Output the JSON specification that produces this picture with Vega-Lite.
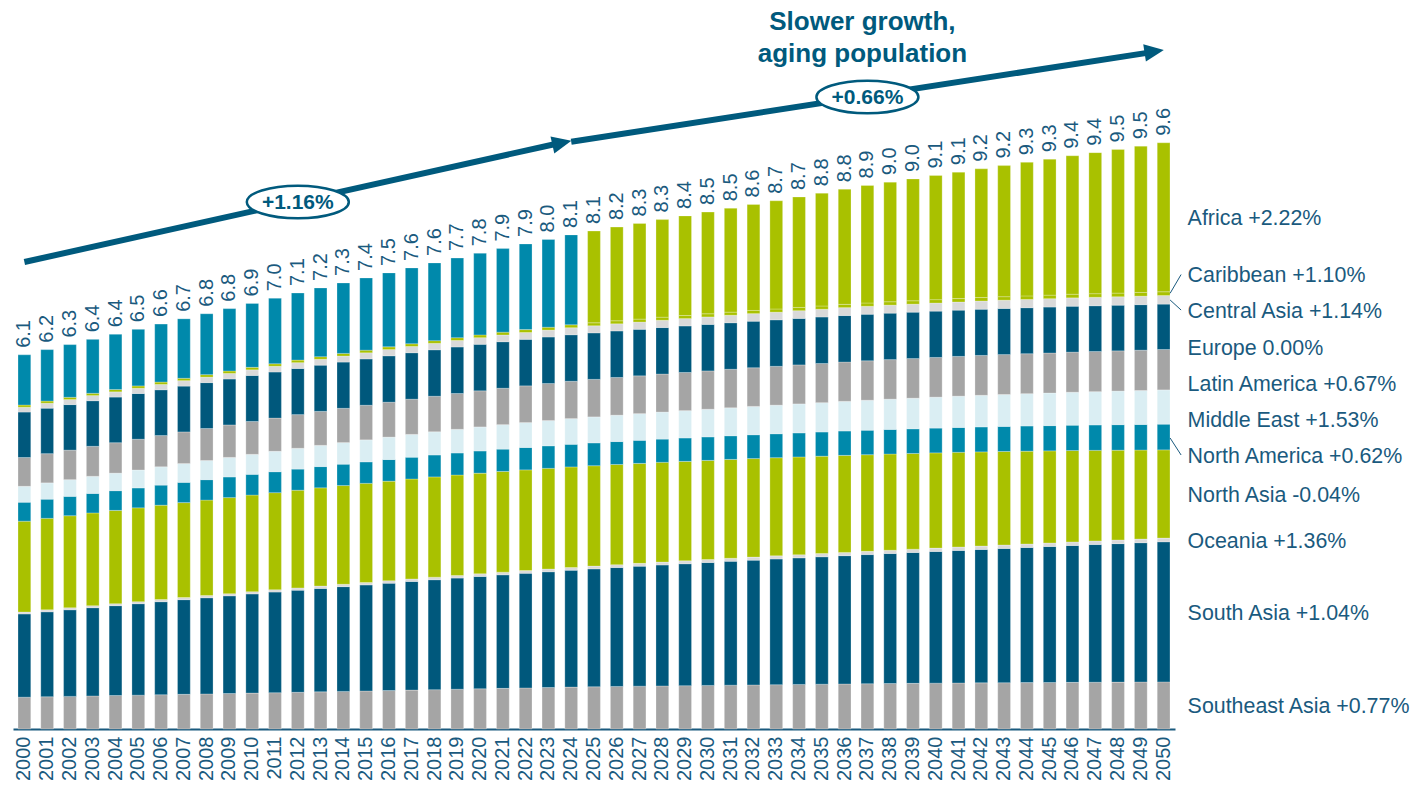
{
"$schema": "https://vega.github.io/schema/vega-lite/v6.json",
"width": 1162,
"height": 729,
"autosize": {"type": "none"},
"padding": {"left": 13, "top": 0, "right": 236, "bottom": 58},
"background": "white",
"config": {
  "view": {"stroke": null},
  "font": "Liberation Sans",
  "axisY": {"disable": true},
  "axisX": {"labelAngle": 270, "labelFontSize": 20, "labelColor": "#1A5A7E", "labelFont": "Liberation Sans", "ticks": false, "domainColor": "#1A5A7E", "domainWidth": 2, "labelPadding": 7, "grid": false}
},
"datasets": {
"pop": [
{"year":2000,"region":"Southeast Asia","value":0.520},{"year":2001,"region":"Southeast Asia","value":0.527},{"year":2002,"region":"Southeast Asia","value":0.533},{"year":2003,"region":"Southeast Asia","value":0.540},{"year":2004,"region":"Southeast Asia","value":0.547},{"year":2005,"region":"Southeast Asia","value":0.553},{"year":2006,"region":"Southeast Asia","value":0.560},{"year":2007,"region":"Southeast Asia","value":0.567},{"year":2008,"region":"Southeast Asia","value":0.573},{"year":2009,"region":"Southeast Asia","value":0.580},{"year":2010,"region":"Southeast Asia","value":0.587},{"year":2011,"region":"Southeast Asia","value":0.593},{"year":2012,"region":"Southeast Asia","value":0.600},{"year":2013,"region":"Southeast Asia","value":0.607},{"year":2014,"region":"Southeast Asia","value":0.614},{"year":2015,"region":"Southeast Asia","value":0.621},{"year":2016,"region":"Southeast Asia","value":0.628},{"year":2017,"region":"Southeast Asia","value":0.636},{"year":2018,"region":"Southeast Asia","value":0.643},{"year":2019,"region":"Southeast Asia","value":0.650},{"year":2020,"region":"Southeast Asia","value":0.657},{"year":2021,"region":"Southeast Asia","value":0.664},{"year":2022,"region":"Southeast Asia","value":0.671},{"year":2023,"region":"Southeast Asia","value":0.678},{"year":2024,"region":"Southeast Asia","value":0.685},{"year":2025,"region":"Southeast Asia","value":0.690},{"year":2026,"region":"Southeast Asia","value":0.695},{"year":2027,"region":"Southeast Asia","value":0.700},{"year":2028,"region":"Southeast Asia","value":0.704},{"year":2029,"region":"Southeast Asia","value":0.708},{"year":2030,"region":"Southeast Asia","value":0.712},{"year":2031,"region":"Southeast Asia","value":0.716},{"year":2032,"region":"Southeast Asia","value":0.720},{"year":2033,"region":"Southeast Asia","value":0.724},{"year":2034,"region":"Southeast Asia","value":0.728},{"year":2035,"region":"Southeast Asia","value":0.732},{"year":2036,"region":"Southeast Asia","value":0.736},{"year":2037,"region":"Southeast Asia","value":0.740},{"year":2038,"region":"Southeast Asia","value":0.743},{"year":2039,"region":"Southeast Asia","value":0.746},{"year":2040,"region":"Southeast Asia","value":0.749},{"year":2041,"region":"Southeast Asia","value":0.752},{"year":2042,"region":"Southeast Asia","value":0.754},{"year":2043,"region":"Southeast Asia","value":0.756},{"year":2044,"region":"Southeast Asia","value":0.758},{"year":2045,"region":"Southeast Asia","value":0.760},{"year":2046,"region":"Southeast Asia","value":0.762},{"year":2047,"region":"Southeast Asia","value":0.764},{"year":2048,"region":"Southeast Asia","value":0.766},{"year":2049,"region":"Southeast Asia","value":0.768},{"year":2050,"region":"Southeast Asia","value":0.770},
{"year":2000,"region":"South Asia","value":1.360},{"year":2001,"region":"South Asia","value":1.388},{"year":2002,"region":"South Asia","value":1.415},{"year":2003,"region":"South Asia","value":1.442},{"year":2004,"region":"South Asia","value":1.468},{"year":2005,"region":"South Asia","value":1.494},{"year":2006,"region":"South Asia","value":1.520},{"year":2007,"region":"South Asia","value":1.546},{"year":2008,"region":"South Asia","value":1.571},{"year":2009,"region":"South Asia","value":1.596},{"year":2010,"region":"South Asia","value":1.620},{"year":2011,"region":"South Asia","value":1.644},{"year":2012,"region":"South Asia","value":1.668},{"year":2013,"region":"South Asia","value":1.690},{"year":2014,"region":"South Asia","value":1.712},{"year":2015,"region":"South Asia","value":1.733},{"year":2016,"region":"South Asia","value":1.754},{"year":2017,"region":"South Asia","value":1.775},{"year":2018,"region":"South Asia","value":1.796},{"year":2019,"region":"South Asia","value":1.816},{"year":2020,"region":"South Asia","value":1.836},{"year":2021,"region":"South Asia","value":1.855},{"year":2022,"region":"South Asia","value":1.873},{"year":2023,"region":"South Asia","value":1.891},{"year":2024,"region":"South Asia","value":1.909},{"year":2025,"region":"South Asia","value":1.926},{"year":2026,"region":"South Asia","value":1.943},{"year":2027,"region":"South Asia","value":1.960},{"year":2028,"region":"South Asia","value":1.976},{"year":2029,"region":"South Asia","value":1.992},{"year":2030,"region":"South Asia","value":2.008},{"year":2031,"region":"South Asia","value":2.024},{"year":2032,"region":"South Asia","value":2.039},{"year":2033,"region":"South Asia","value":2.054},{"year":2034,"region":"South Asia","value":2.068},{"year":2035,"region":"South Asia","value":2.082},{"year":2036,"region":"South Asia","value":2.096},{"year":2037,"region":"South Asia","value":2.110},{"year":2038,"region":"South Asia","value":2.124},{"year":2039,"region":"South Asia","value":2.138},{"year":2040,"region":"South Asia","value":2.152},{"year":2041,"region":"South Asia","value":2.166},{"year":2042,"region":"South Asia","value":2.180},{"year":2043,"region":"South Asia","value":2.194},{"year":2044,"region":"South Asia","value":2.208},{"year":2045,"region":"South Asia","value":2.222},{"year":2046,"region":"South Asia","value":2.236},{"year":2047,"region":"South Asia","value":2.250},{"year":2048,"region":"South Asia","value":2.263},{"year":2049,"region":"South Asia","value":2.276},{"year":2050,"region":"South Asia","value":2.289},
{"year":2000,"region":"Oceania","value":0.031},{"year":2001,"region":"Oceania","value":0.032},{"year":2002,"region":"Oceania","value":0.032},{"year":2003,"region":"Oceania","value":0.033},{"year":2004,"region":"Oceania","value":0.033},{"year":2005,"region":"Oceania","value":0.034},{"year":2006,"region":"Oceania","value":0.035},{"year":2007,"region":"Oceania","value":0.035},{"year":2008,"region":"Oceania","value":0.036},{"year":2009,"region":"Oceania","value":0.036},{"year":2010,"region":"Oceania","value":0.037},{"year":2011,"region":"Oceania","value":0.038},{"year":2012,"region":"Oceania","value":0.038},{"year":2013,"region":"Oceania","value":0.039},{"year":2014,"region":"Oceania","value":0.039},{"year":2015,"region":"Oceania","value":0.040},{"year":2016,"region":"Oceania","value":0.041},{"year":2017,"region":"Oceania","value":0.041},{"year":2018,"region":"Oceania","value":0.042},{"year":2019,"region":"Oceania","value":0.042},{"year":2020,"region":"Oceania","value":0.043},{"year":2021,"region":"Oceania","value":0.044},{"year":2022,"region":"Oceania","value":0.044},{"year":2023,"region":"Oceania","value":0.045},{"year":2024,"region":"Oceania","value":0.045},{"year":2025,"region":"Oceania","value":0.046},{"year":2026,"region":"Oceania","value":0.047},{"year":2027,"region":"Oceania","value":0.047},{"year":2028,"region":"Oceania","value":0.048},{"year":2029,"region":"Oceania","value":0.048},{"year":2030,"region":"Oceania","value":0.049},{"year":2031,"region":"Oceania","value":0.050},{"year":2032,"region":"Oceania","value":0.050},{"year":2033,"region":"Oceania","value":0.051},{"year":2034,"region":"Oceania","value":0.051},{"year":2035,"region":"Oceania","value":0.052},{"year":2036,"region":"Oceania","value":0.053},{"year":2037,"region":"Oceania","value":0.053},{"year":2038,"region":"Oceania","value":0.054},{"year":2039,"region":"Oceania","value":0.054},{"year":2040,"region":"Oceania","value":0.055},{"year":2041,"region":"Oceania","value":0.056},{"year":2042,"region":"Oceania","value":0.056},{"year":2043,"region":"Oceania","value":0.057},{"year":2044,"region":"Oceania","value":0.057},{"year":2045,"region":"Oceania","value":0.058},{"year":2046,"region":"Oceania","value":0.059},{"year":2047,"region":"Oceania","value":0.059},{"year":2048,"region":"Oceania","value":0.060},{"year":2049,"region":"Oceania","value":0.060},{"year":2050,"region":"Oceania","value":0.061},
{"year":2000,"region":"North Asia","value":1.485},{"year":2001,"region":"North Asia","value":1.495},{"year":2002,"region":"North Asia","value":1.505},{"year":2003,"region":"North Asia","value":1.515},{"year":2004,"region":"North Asia","value":1.524},{"year":2005,"region":"North Asia","value":1.533},{"year":2006,"region":"North Asia","value":1.542},{"year":2007,"region":"North Asia","value":1.551},{"year":2008,"region":"North Asia","value":1.560},{"year":2009,"region":"North Asia","value":1.569},{"year":2010,"region":"North Asia","value":1.578},{"year":2011,"region":"North Asia","value":1.587},{"year":2012,"region":"North Asia","value":1.596},{"year":2013,"region":"North Asia","value":1.605},{"year":2014,"region":"North Asia","value":1.613},{"year":2015,"region":"North Asia","value":1.620},{"year":2016,"region":"North Asia","value":1.627},{"year":2017,"region":"North Asia","value":1.633},{"year":2018,"region":"North Asia","value":1.638},{"year":2019,"region":"North Asia","value":1.642},{"year":2020,"region":"North Asia","value":1.645},{"year":2021,"region":"North Asia","value":1.646},{"year":2022,"region":"North Asia","value":1.646},{"year":2023,"region":"North Asia","value":1.645},{"year":2024,"region":"North Asia","value":1.643},{"year":2025,"region":"North Asia","value":1.640},{"year":2026,"region":"North Asia","value":1.637},{"year":2027,"region":"North Asia","value":1.633},{"year":2028,"region":"North Asia","value":1.629},{"year":2029,"region":"North Asia","value":1.625},{"year":2030,"region":"North Asia","value":1.620},{"year":2031,"region":"North Asia","value":1.615},{"year":2032,"region":"North Asia","value":1.610},{"year":2033,"region":"North Asia","value":1.604},{"year":2034,"region":"North Asia","value":1.598},{"year":2035,"region":"North Asia","value":1.592},{"year":2036,"region":"North Asia","value":1.586},{"year":2037,"region":"North Asia","value":1.579},{"year":2038,"region":"North Asia","value":1.572},{"year":2039,"region":"North Asia","value":1.564},{"year":2040,"region":"North Asia","value":1.556},{"year":2041,"region":"North Asia","value":1.547},{"year":2042,"region":"North Asia","value":1.538},{"year":2043,"region":"North Asia","value":1.528},{"year":2044,"region":"North Asia","value":1.517},{"year":2045,"region":"North Asia","value":1.505},{"year":2046,"region":"North Asia","value":1.493},{"year":2047,"region":"North Asia","value":1.480},{"year":2048,"region":"North Asia","value":1.467},{"year":2049,"region":"North Asia","value":1.454},{"year":2050,"region":"North Asia","value":1.441},
{"year":2000,"region":"North America","value":0.310},{"year":2001,"region":"North America","value":0.313},{"year":2002,"region":"North America","value":0.316},{"year":2003,"region":"North America","value":0.319},{"year":2004,"region":"North America","value":0.322},{"year":2005,"region":"North America","value":0.325},{"year":2006,"region":"North America","value":0.328},{"year":2007,"region":"North America","value":0.331},{"year":2008,"region":"North America","value":0.334},{"year":2009,"region":"North America","value":0.337},{"year":2010,"region":"North America","value":0.339},{"year":2011,"region":"North America","value":0.342},{"year":2012,"region":"North America","value":0.345},{"year":2013,"region":"North America","value":0.347},{"year":2014,"region":"North America","value":0.349},{"year":2015,"region":"North America","value":0.351},{"year":2016,"region":"North America","value":0.353},{"year":2017,"region":"North America","value":0.356},{"year":2018,"region":"North America","value":0.358},{"year":2019,"region":"North America","value":0.360},{"year":2020,"region":"North America","value":0.362},{"year":2021,"region":"North America","value":0.364},{"year":2022,"region":"North America","value":0.366},{"year":2023,"region":"North America","value":0.368},{"year":2024,"region":"North America","value":0.370},{"year":2025,"region":"North America","value":0.373},{"year":2026,"region":"North America","value":0.375},{"year":2027,"region":"North America","value":0.377},{"year":2028,"region":"North America","value":0.380},{"year":2029,"region":"North America","value":0.382},{"year":2030,"region":"North America","value":0.384},{"year":2031,"region":"North America","value":0.386},{"year":2032,"region":"North America","value":0.389},{"year":2033,"region":"North America","value":0.391},{"year":2034,"region":"North America","value":0.393},{"year":2035,"region":"North America","value":0.395},{"year":2036,"region":"North America","value":0.398},{"year":2037,"region":"North America","value":0.400},{"year":2038,"region":"North America","value":0.402},{"year":2039,"region":"North America","value":0.403},{"year":2040,"region":"North America","value":0.405},{"year":2041,"region":"North America","value":0.406},{"year":2042,"region":"North America","value":0.408},{"year":2043,"region":"North America","value":0.409},{"year":2044,"region":"North America","value":0.411},{"year":2045,"region":"North America","value":0.412},{"year":2046,"region":"North America","value":0.414},{"year":2047,"region":"North America","value":0.415},{"year":2048,"region":"North America","value":0.417},{"year":2049,"region":"North America","value":0.418},{"year":2050,"region":"North America","value":0.420},
{"year":2000,"region":"Middle East","value":0.260},{"year":2001,"region":"Middle East","value":0.267},{"year":2002,"region":"Middle East","value":0.273},{"year":2003,"region":"Middle East","value":0.280},{"year":2004,"region":"Middle East","value":0.287},{"year":2005,"region":"Middle East","value":0.293},{"year":2006,"region":"Middle East","value":0.300},{"year":2007,"region":"Middle East","value":0.307},{"year":2008,"region":"Middle East","value":0.313},{"year":2009,"region":"Middle East","value":0.320},{"year":2010,"region":"Middle East","value":0.327},{"year":2011,"region":"Middle East","value":0.333},{"year":2012,"region":"Middle East","value":0.340},{"year":2013,"region":"Middle East","value":0.347},{"year":2014,"region":"Middle East","value":0.353},{"year":2015,"region":"Middle East","value":0.360},{"year":2016,"region":"Middle East","value":0.367},{"year":2017,"region":"Middle East","value":0.373},{"year":2018,"region":"Middle East","value":0.380},{"year":2019,"region":"Middle East","value":0.387},{"year":2020,"region":"Middle East","value":0.393},{"year":2021,"region":"Middle East","value":0.400},{"year":2022,"region":"Middle East","value":0.407},{"year":2023,"region":"Middle East","value":0.413},{"year":2024,"region":"Middle East","value":0.420},{"year":2025,"region":"Middle East","value":0.425},{"year":2026,"region":"Middle East","value":0.431},{"year":2027,"region":"Middle East","value":0.436},{"year":2028,"region":"Middle East","value":0.442},{"year":2029,"region":"Middle East","value":0.447},{"year":2030,"region":"Middle East","value":0.452},{"year":2031,"region":"Middle East","value":0.458},{"year":2032,"region":"Middle East","value":0.463},{"year":2033,"region":"Middle East","value":0.468},{"year":2034,"region":"Middle East","value":0.474},{"year":2035,"region":"Middle East","value":0.479},{"year":2036,"region":"Middle East","value":0.485},{"year":2037,"region":"Middle East","value":0.490},{"year":2038,"region":"Middle East","value":0.495},{"year":2039,"region":"Middle East","value":0.501},{"year":2040,"region":"Middle East","value":0.506},{"year":2041,"region":"Middle East","value":0.512},{"year":2042,"region":"Middle East","value":0.517},{"year":2043,"region":"Middle East","value":0.522},{"year":2044,"region":"Middle East","value":0.528},{"year":2045,"region":"Middle East","value":0.533},{"year":2046,"region":"Middle East","value":0.539},{"year":2047,"region":"Middle East","value":0.544},{"year":2048,"region":"Middle East","value":0.549},{"year":2049,"region":"Middle East","value":0.555},{"year":2050,"region":"Middle East","value":0.560},
{"year":2000,"region":"Latin America","value":0.470},{"year":2001,"region":"Latin America","value":0.477},{"year":2002,"region":"Latin America","value":0.483},{"year":2003,"region":"Latin America","value":0.490},{"year":2004,"region":"Latin America","value":0.497},{"year":2005,"region":"Latin America","value":0.503},{"year":2006,"region":"Latin America","value":0.510},{"year":2007,"region":"Latin America","value":0.517},{"year":2008,"region":"Latin America","value":0.523},{"year":2009,"region":"Latin America","value":0.530},{"year":2010,"region":"Latin America","value":0.537},{"year":2011,"region":"Latin America","value":0.543},{"year":2012,"region":"Latin America","value":0.550},{"year":2013,"region":"Latin America","value":0.555},{"year":2014,"region":"Latin America","value":0.560},{"year":2015,"region":"Latin America","value":0.565},{"year":2016,"region":"Latin America","value":0.570},{"year":2017,"region":"Latin America","value":0.575},{"year":2018,"region":"Latin America","value":0.580},{"year":2019,"region":"Latin America","value":0.585},{"year":2020,"region":"Latin America","value":0.590},{"year":2021,"region":"Latin America","value":0.595},{"year":2022,"region":"Latin America","value":0.600},{"year":2023,"region":"Latin America","value":0.605},{"year":2024,"region":"Latin America","value":0.610},{"year":2025,"region":"Latin America","value":0.613},{"year":2026,"region":"Latin America","value":0.616},{"year":2027,"region":"Latin America","value":0.618},{"year":2028,"region":"Latin America","value":0.621},{"year":2029,"region":"Latin America","value":0.624},{"year":2030,"region":"Latin America","value":0.626},{"year":2031,"region":"Latin America","value":0.629},{"year":2032,"region":"Latin America","value":0.632},{"year":2033,"region":"Latin America","value":0.634},{"year":2034,"region":"Latin America","value":0.637},{"year":2035,"region":"Latin America","value":0.640},{"year":2036,"region":"Latin America","value":0.642},{"year":2037,"region":"Latin America","value":0.645},{"year":2038,"region":"Latin America","value":0.646},{"year":2039,"region":"Latin America","value":0.647},{"year":2040,"region":"Latin America","value":0.648},{"year":2041,"region":"Latin America","value":0.649},{"year":2042,"region":"Latin America","value":0.651},{"year":2043,"region":"Latin America","value":0.652},{"year":2044,"region":"Latin America","value":0.653},{"year":2045,"region":"Latin America","value":0.654},{"year":2046,"region":"Latin America","value":0.655},{"year":2047,"region":"Latin America","value":0.656},{"year":2048,"region":"Latin America","value":0.657},{"year":2049,"region":"Latin America","value":0.659},{"year":2050,"region":"Latin America","value":0.660},
{"year":2000,"region":"Europe","value":0.742},{"year":2001,"region":"Europe","value":0.743},{"year":2002,"region":"Europe","value":0.744},{"year":2003,"region":"Europe","value":0.745},{"year":2004,"region":"Europe","value":0.746},{"year":2005,"region":"Europe","value":0.747},{"year":2006,"region":"Europe","value":0.748},{"year":2007,"region":"Europe","value":0.749},{"year":2008,"region":"Europe","value":0.750},{"year":2009,"region":"Europe","value":0.751},{"year":2010,"region":"Europe","value":0.752},{"year":2011,"region":"Europe","value":0.753},{"year":2012,"region":"Europe","value":0.754},{"year":2013,"region":"Europe","value":0.755},{"year":2014,"region":"Europe","value":0.756},{"year":2015,"region":"Europe","value":0.757},{"year":2016,"region":"Europe","value":0.758},{"year":2017,"region":"Europe","value":0.759},{"year":2018,"region":"Europe","value":0.759},{"year":2019,"region":"Europe","value":0.760},{"year":2020,"region":"Europe","value":0.760},{"year":2021,"region":"Europe","value":0.760},{"year":2022,"region":"Europe","value":0.760},{"year":2023,"region":"Europe","value":0.760},{"year":2024,"region":"Europe","value":0.760},{"year":2025,"region":"Europe","value":0.760},{"year":2026,"region":"Europe","value":0.760},{"year":2027,"region":"Europe","value":0.760},{"year":2028,"region":"Europe","value":0.760},{"year":2029,"region":"Europe","value":0.760},{"year":2030,"region":"Europe","value":0.760},{"year":2031,"region":"Europe","value":0.760},{"year":2032,"region":"Europe","value":0.760},{"year":2033,"region":"Europe","value":0.760},{"year":2034,"region":"Europe","value":0.760},{"year":2035,"region":"Europe","value":0.760},{"year":2036,"region":"Europe","value":0.760},{"year":2037,"region":"Europe","value":0.760},{"year":2038,"region":"Europe","value":0.759},{"year":2039,"region":"Europe","value":0.758},{"year":2040,"region":"Europe","value":0.757},{"year":2041,"region":"Europe","value":0.756},{"year":2042,"region":"Europe","value":0.755},{"year":2043,"region":"Europe","value":0.754},{"year":2044,"region":"Europe","value":0.752},{"year":2045,"region":"Europe","value":0.751},{"year":2046,"region":"Europe","value":0.750},{"year":2047,"region":"Europe","value":0.748},{"year":2048,"region":"Europe","value":0.746},{"year":2049,"region":"Europe","value":0.744},{"year":2050,"region":"Europe","value":0.742},
{"year":2000,"region":"Central Asia","value":0.080},{"year":2001,"region":"Central Asia","value":0.081},{"year":2002,"region":"Central Asia","value":0.082},{"year":2003,"region":"Central Asia","value":0.084},{"year":2004,"region":"Central Asia","value":0.085},{"year":2005,"region":"Central Asia","value":0.086},{"year":2006,"region":"Central Asia","value":0.087},{"year":2007,"region":"Central Asia","value":0.089},{"year":2008,"region":"Central Asia","value":0.090},{"year":2009,"region":"Central Asia","value":0.091},{"year":2010,"region":"Central Asia","value":0.092},{"year":2011,"region":"Central Asia","value":0.094},{"year":2012,"region":"Central Asia","value":0.095},{"year":2013,"region":"Central Asia","value":0.097},{"year":2014,"region":"Central Asia","value":0.098},{"year":2015,"region":"Central Asia","value":0.100},{"year":2016,"region":"Central Asia","value":0.102},{"year":2017,"region":"Central Asia","value":0.103},{"year":2018,"region":"Central Asia","value":0.105},{"year":2019,"region":"Central Asia","value":0.107},{"year":2020,"region":"Central Asia","value":0.108},{"year":2021,"region":"Central Asia","value":0.110},{"year":2022,"region":"Central Asia","value":0.112},{"year":2023,"region":"Central Asia","value":0.113},{"year":2024,"region":"Central Asia","value":0.115},{"year":2025,"region":"Central Asia","value":0.116},{"year":2026,"region":"Central Asia","value":0.117},{"year":2027,"region":"Central Asia","value":0.118},{"year":2028,"region":"Central Asia","value":0.119},{"year":2029,"region":"Central Asia","value":0.120},{"year":2030,"region":"Central Asia","value":0.122},{"year":2031,"region":"Central Asia","value":0.123},{"year":2032,"region":"Central Asia","value":0.124},{"year":2033,"region":"Central Asia","value":0.125},{"year":2034,"region":"Central Asia","value":0.126},{"year":2035,"region":"Central Asia","value":0.127},{"year":2036,"region":"Central Asia","value":0.129},{"year":2037,"region":"Central Asia","value":0.130},{"year":2038,"region":"Central Asia","value":0.131},{"year":2039,"region":"Central Asia","value":0.131},{"year":2040,"region":"Central Asia","value":0.132},{"year":2041,"region":"Central Asia","value":0.133},{"year":2042,"region":"Central Asia","value":0.134},{"year":2043,"region":"Central Asia","value":0.135},{"year":2044,"region":"Central Asia","value":0.135},{"year":2045,"region":"Central Asia","value":0.136},{"year":2046,"region":"Central Asia","value":0.137},{"year":2047,"region":"Central Asia","value":0.138},{"year":2048,"region":"Central Asia","value":0.138},{"year":2049,"region":"Central Asia","value":0.139},{"year":2050,"region":"Central Asia","value":0.140},
{"year":2000,"region":"Caribbean","value":0.036},{"year":2001,"region":"Caribbean","value":0.036},{"year":2002,"region":"Caribbean","value":0.037},{"year":2003,"region":"Caribbean","value":0.037},{"year":2004,"region":"Caribbean","value":0.038},{"year":2005,"region":"Caribbean","value":0.038},{"year":2006,"region":"Caribbean","value":0.039},{"year":2007,"region":"Caribbean","value":0.039},{"year":2008,"region":"Caribbean","value":0.040},{"year":2009,"region":"Caribbean","value":0.040},{"year":2010,"region":"Caribbean","value":0.041},{"year":2011,"region":"Caribbean","value":0.041},{"year":2012,"region":"Caribbean","value":0.042},{"year":2013,"region":"Caribbean","value":0.042},{"year":2014,"region":"Caribbean","value":0.043},{"year":2015,"region":"Caribbean","value":0.043},{"year":2016,"region":"Caribbean","value":0.044},{"year":2017,"region":"Caribbean","value":0.044},{"year":2018,"region":"Caribbean","value":0.045},{"year":2019,"region":"Caribbean","value":0.045},{"year":2020,"region":"Caribbean","value":0.046},{"year":2021,"region":"Caribbean","value":0.046},{"year":2022,"region":"Caribbean","value":0.047},{"year":2023,"region":"Caribbean","value":0.047},{"year":2024,"region":"Caribbean","value":0.048},{"year":2025,"region":"Caribbean","value":0.048},{"year":2026,"region":"Caribbean","value":0.049},{"year":2027,"region":"Caribbean","value":0.049},{"year":2028,"region":"Caribbean","value":0.050},{"year":2029,"region":"Caribbean","value":0.050},{"year":2030,"region":"Caribbean","value":0.051},{"year":2031,"region":"Caribbean","value":0.051},{"year":2032,"region":"Caribbean","value":0.052},{"year":2033,"region":"Caribbean","value":0.052},{"year":2034,"region":"Caribbean","value":0.053},{"year":2035,"region":"Caribbean","value":0.053},{"year":2036,"region":"Caribbean","value":0.054},{"year":2037,"region":"Caribbean","value":0.054},{"year":2038,"region":"Caribbean","value":0.055},{"year":2039,"region":"Caribbean","value":0.055},{"year":2040,"region":"Caribbean","value":0.056},{"year":2041,"region":"Caribbean","value":0.056},{"year":2042,"region":"Caribbean","value":0.057},{"year":2043,"region":"Caribbean","value":0.057},{"year":2044,"region":"Caribbean","value":0.058},{"year":2045,"region":"Caribbean","value":0.058},{"year":2046,"region":"Caribbean","value":0.059},{"year":2047,"region":"Caribbean","value":0.059},{"year":2048,"region":"Caribbean","value":0.060},{"year":2049,"region":"Caribbean","value":0.060},{"year":2050,"region":"Caribbean","value":0.061},
{"year":2000,"region":"Africa","value":0.820},{"year":2001,"region":"Africa","value":0.840},{"year":2002,"region":"Africa","value":0.861},{"year":2003,"region":"Africa","value":0.882},{"year":2004,"region":"Africa","value":0.903},{"year":2005,"region":"Africa","value":0.925},{"year":2006,"region":"Africa","value":0.948},{"year":2007,"region":"Africa","value":0.971},{"year":2008,"region":"Africa","value":0.995},{"year":2009,"region":"Africa","value":1.019},{"year":2010,"region":"Africa","value":1.044},{"year":2011,"region":"Africa","value":1.070},{"year":2012,"region":"Africa","value":1.096},{"year":2013,"region":"Africa","value":1.123},{"year":2014,"region":"Africa","value":1.151},{"year":2015,"region":"Africa","value":1.180},{"year":2016,"region":"Africa","value":1.209},{"year":2017,"region":"Africa","value":1.239},{"year":2018,"region":"Africa","value":1.270},{"year":2019,"region":"Africa","value":1.301},{"year":2020,"region":"Africa","value":1.333},{"year":2021,"region":"Africa","value":1.366},{"year":2022,"region":"Africa","value":1.400},{"year":2023,"region":"Africa","value":1.434},{"year":2024,"region":"Africa","value":1.469},{"year":2025,"region":"Africa","value":1.500},{"year":2026,"region":"Africa","value":1.531},{"year":2027,"region":"Africa","value":1.563},{"year":2028,"region":"Africa","value":1.595},{"year":2029,"region":"Africa","value":1.628},{"year":2030,"region":"Africa","value":1.662},{"year":2031,"region":"Africa","value":1.697},{"year":2032,"region":"Africa","value":1.732},{"year":2033,"region":"Africa","value":1.768},{"year":2034,"region":"Africa","value":1.805},{"year":2035,"region":"Africa","value":1.843},{"year":2036,"region":"Africa","value":1.881},{"year":2037,"region":"Africa","value":1.920},{"year":2038,"region":"Africa","value":1.955},{"year":2039,"region":"Africa","value":1.991},{"year":2040,"region":"Africa","value":2.028},{"year":2041,"region":"Africa","value":2.065},{"year":2042,"region":"Africa","value":2.103},{"year":2043,"region":"Africa","value":2.142},{"year":2044,"region":"Africa","value":2.182},{"year":2045,"region":"Africa","value":2.222},{"year":2046,"region":"Africa","value":2.263},{"year":2047,"region":"Africa","value":2.305},{"year":2048,"region":"Africa","value":2.347},{"year":2049,"region":"Africa","value":2.391},{"year":2050,"region":"Africa","value":2.435}
],
"totals": [
{"year":2000,"label":6.1},{"year":2001,"label":6.2},{"year":2002,"label":6.3},{"year":2003,"label":6.4},{"year":2004,"label":6.4},{"year":2005,"label":6.5},{"year":2006,"label":6.6},{"year":2007,"label":6.7},{"year":2008,"label":6.8},{"year":2009,"label":6.8},{"year":2010,"label":6.9},{"year":2011,"label":7.0},{"year":2012,"label":7.1},{"year":2013,"label":7.2},{"year":2014,"label":7.3},{"year":2015,"label":7.4},{"year":2016,"label":7.5},{"year":2017,"label":7.6},{"year":2018,"label":7.6},{"year":2019,"label":7.7},{"year":2020,"label":7.8},{"year":2021,"label":7.9},{"year":2022,"label":7.9},{"year":2023,"label":8.0},{"year":2024,"label":8.1},{"year":2025,"label":8.1},{"year":2026,"label":8.2},{"year":2027,"label":8.3},{"year":2028,"label":8.3},{"year":2029,"label":8.4},{"year":2030,"label":8.5},{"year":2031,"label":8.5},{"year":2032,"label":8.6},{"year":2033,"label":8.7},{"year":2034,"label":8.7},{"year":2035,"label":8.8},{"year":2036,"label":8.8},{"year":2037,"label":8.9},{"year":2038,"label":9.0},{"year":2039,"label":9.0},{"year":2040,"label":9.1},{"year":2041,"label":9.1},{"year":2042,"label":9.2},{"year":2043,"label":9.2},{"year":2044,"label":9.3},{"year":2045,"label":9.3},{"year":2046,"label":9.4},{"year":2047,"label":9.4},{"year":2048,"label":9.5},{"year":2049,"label":9.5},{"year":2050,"label":9.6}
],
"labels": [
{"label":"Africa +2.22%","pos":8.333},
{"label":"Caribbean +1.10%","pos":7.402},
{"label":"Central Asia +1.14%","pos":6.814},
{"label":"Europe 0.00%","pos":6.209},
{"label":"Latin America +0.67%","pos":5.621},
{"label":"Middle East +1.53%","pos":5.033},
{"label":"North America +0.62%","pos":4.444},
{"label":"North Asia -0.04%","pos":3.807},
{"label":"Oceania +1.36%","pos":3.056},
{"label":"South Asia +1.04%","pos":1.879},
{"label":"Southeast Asia +0.77%","pos":0.359}
],
"leaders": [
{"y0":7.119,"y1":7.426},
{"y0":7.010,"y1":6.846},
{"y0":4.755,"y1":4.477}
],
"arrows": [
{"x0":2000,"y0":7.631,"x1":2024,"y1":9.611},
{"x0":2024,"y0":9.596,"x1":2050,"y1":11.095}
],
"badges": [
{"x":2012,"y":8.611,"label":"+1.16%"},
{"x":2037,"y":10.327,"label":"+0.66%"}
],
"heading": [
{"x":2037,"y":11.549,"text":"Slower growth,"},
{"x":2037,"y":11.031,"text":"aging population"}
]
},
"layer": [
{
  "data": {"name": "pop"},
  "mark": {"type": "bar", "stroke": "#ffffff", "strokeWidth": 0.5, "strokeOpacity": 0.5},
  "encoding": {
    "x": {"field": "year", "type": "ordinal", "title": null, "scale": {"paddingInner": 0.44, "paddingOuter": 0.22}},
    "y": {"field": "value", "type": "quantitative", "stack": "zero", "title": null, "axis": null, "scale": {"domain": [0, 11.912], "nice": false, "zero": true}},
    "color": {
      "condition": {"test": "datum.region === 'Africa' && datum.year >= 2025", "value": "#A9C100"},
      "field": "region", "type": "nominal", "legend": null,
      "scale": {
        "domain": ["Southeast Asia","South Asia","Oceania","North Asia","North America","Middle East","Latin America","Europe","Central Asia","Caribbean","Africa"],
        "range": ["#A5A5A5","#00587C","#D9D9D9","#A9C100","#0089AB","#DAEEF3","#A5A5A5","#00587C","#D9D9D9","#A9C100","#0089AB"]
      }
    },
    "order": {"field": "region", "sort": "descending"}
  }
},
{
  "data": {"name": "pop"},
  "transform": [
    {"aggregate": [{"op": "sum", "field": "value", "as": "total"}], "groupby": ["year"]},
    {"lookup": "year", "from": {"data": {"name": "totals"}, "key": "year", "fields": ["label"]}}
  ],
  "mark": {"type": "text", "angle": 270, "align": "left", "baseline": "middle", "dx": 7, "fontSize": 20, "color": "#1A5A7E"},
  "encoding": {
    "x": {"field": "year", "type": "ordinal", "title": null},
    "y": {"field": "total", "type": "quantitative", "title": null},
    "text": {"field": "label", "type": "quantitative", "format": ".1f"}
  }
},
{
  "data": {"name": "labels"},
  "mark": {"type": "text", "align": "left", "baseline": "middle", "dx": 24, "fontSize": 21.4, "color": "#1A5A7E"},
  "encoding": {
    "x": {"datum": 2050, "type": "ordinal"},
    "y": {"field": "pos", "type": "quantitative", "title": null},
    "text": {"field": "label", "type": "nominal"}
  }
},
{
  "data": {"name": "leaders"},
  "mark": {"type": "rule", "xOffset": 6.5, "x2Offset": 17.5, "color": "#1A5A7E", "strokeWidth": 1},
  "encoding": {
    "x": {"datum": 2050, "type": "ordinal"},
    "x2": {"datum": 2050},
    "y": {"field": "y0", "type": "quantitative", "title": null},
    "y2": {"field": "y1"}
  }
},
{
  "data": {"name": "arrows"},
  "mark": {"type": "rule", "strokeWidth": 6, "color": "#005A7D", "x2Offset": -10, "y2Offset": 1.9},
  "encoding": {
    "x": {"field": "x0", "type": "ordinal", "title": null},
    "x2": {"field": "x1"},
    "y": {"field": "y0", "type": "quantitative", "title": null},
    "y2": {"field": "y1"}
  }
},
{
  "data": {"name": "arrows"},
  "transform": [{"filter": "datum.x1 === 2024"}],
  "mark": {"type": "point", "shape": "M-1,-0.9L1,0L-1,0.9Z", "size": 380, "filled": true, "color": "#005A7D", "opacity": 1, "angle": 347.5, "xOffset": -9.3, "yOffset": 2.1},
  "encoding": {
    "x": {"field": "x1", "type": "ordinal", "title": null},
    "y": {"field": "y1", "type": "quantitative", "title": null}
  }
},
{
  "data": {"name": "arrows"},
  "transform": [{"filter": "datum.x1 === 2050"}],
  "mark": {"type": "point", "shape": "M-1,-0.9L1,0L-1,0.9Z", "size": 380, "filled": true, "color": "#005A7D", "opacity": 1, "angle": 351.2, "xOffset": -9.4, "yOffset": 1.4},
  "encoding": {
    "x": {"field": "x1", "type": "ordinal", "title": null},
    "y": {"field": "y1", "type": "quantitative", "title": null}
  }
},
{
  "data": {"name": "badges"},
  "mark": {"type": "point", "shape": "M-1,0A1,0.32 0 1,1 1,0A1,0.32 0 1,1 -1,0Z", "size": 10404, "filled": true, "fill": "#ffffff", "stroke": "#005A7D", "strokeWidth": 2.5, "opacity": 1},
  "encoding": {
    "x": {"field": "x", "type": "ordinal", "title": null},
    "y": {"field": "y", "type": "quantitative", "title": null}
  }
},
{
  "data": {"name": "badges"},
  "mark": {"type": "text", "align": "center", "baseline": "middle", "dy": 1, "fontSize": 21, "fontWeight": "bold", "color": "#005A7D"},
  "encoding": {
    "x": {"field": "x", "type": "ordinal", "title": null},
    "y": {"field": "y", "type": "quantitative", "title": null},
    "text": {"field": "label", "type": "nominal"}
  }
},
{
  "data": {"name": "heading"},
  "mark": {"type": "text", "align": "center", "baseline": "middle", "dx": -5, "fontSize": 26, "fontWeight": "bold", "color": "#005A7D"},
  "encoding": {
    "x": {"field": "x", "type": "ordinal", "title": null},
    "y": {"field": "y", "type": "quantitative", "title": null},
    "text": {"field": "text", "type": "nominal"}
  }
}
]
}
